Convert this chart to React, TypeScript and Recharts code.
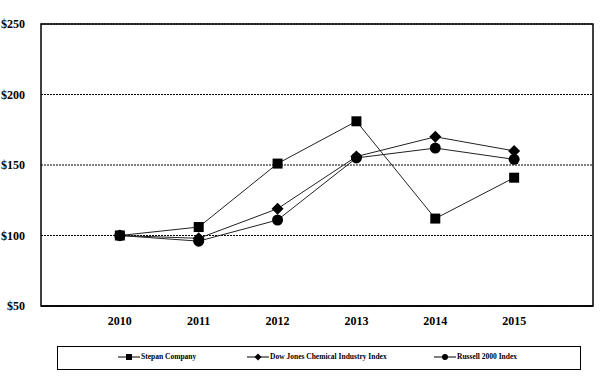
import React from 'react';
import { LineChart, Line, XAxis, YAxis, CartesianGrid, ReferenceArea } from 'recharts';

const years = [2010, 2011, 2012, 2013, 2014, 2015];
const stepan = [100, 106, 151, 181, 112, 141];
const dowChem = [100, 98, 119, 156, 170, 160];
const russell = [100, 96, 111, 155, 162, 154];
const yTicks = [50, 100, 150, 200, 250];
const seriesNames = ['Stepan Company', 'Dow Jones Chemical Industry Index', 'Russell 2000 Index'];

const data = years.map((y, i) => ({ year: y, stepan: stepan[i], dow: dowChem[i], russell: russell[i] }));

const FONT = '"Liberation Serif", "Times New Roman", serif';

const SquareDot = (props: any) => {
  const { cx, cy } = props;
  if (cx == null || cy == null) return null;
  return <rect x={cx - 5} y={cy - 5} width={10} height={10} fill="#000" />;
};
const DiamondDot = (props: any) => {
  const { cx, cy } = props;
  if (cx == null || cy == null) return null;
  return <polygon points={`${cx},${cy - 6} ${cx + 6},${cy} ${cx},${cy + 6} ${cx - 6},${cy}`} fill="#000" />;
};
const CircleDot = (props: any) => {
  const { cx, cy } = props;
  if (cx == null || cy == null) return null;
  return <circle cx={cx} cy={cy} r={5.5} fill="#000" />;
};

const LegendMarker = ({ type }: { type: string }) => (
  <svg width={22} height={8} style={{ verticalAlign: 'middle', marginRight: 1 }}>
    <line x1={0} y1={4} x2={22} y2={4} stroke="#000" strokeWidth={1} />
    {type === 'square' && <rect x={8} y={1} width={6} height={6} fill="#000" />}
    {type === 'diamond' && <polygon points="11,0.5 14.5,4 11,7.5 7.5,4" fill="#000" />}
    {type === 'circle' && <circle cx={11} cy={4} r={3} fill="#000" />}
  </svg>
);

const LegendBox = () => {
  const types = ['square', 'diamond', 'circle'];
  const lefts = [60, 189, 376];
  return (
    <div style={{ position: 'absolute', left: 57, top: 346, width: 524, height: 24, border: '1.5px solid #000', boxSizing: 'border-box', fontFamily: FONT, fontWeight: 'bold', fontSize: 7.5 }}>
      {seriesNames.map((n, i) => (
        <div key={n} style={{ position: 'absolute', left: lefts[i], top: 5, whiteSpace: 'nowrap', lineHeight: '10px' }}>
          <LegendMarker type={types[i]} />
          <span style={{ verticalAlign: 'middle' }}>{n}</span>
        </div>
      ))}
    </div>
  );
};

export default function App() {
  return (
    <div style={{ position: 'absolute', left: 0, top: 0, width: 608, height: 383, background: '#fff' }}>
      <LineChart width={608} height={383} data={data} margin={{ top: 24, right: 15, left: 0, bottom: 57 }}>
        <CartesianGrid vertical={false} stroke="#000" strokeDasharray="2 1" strokeWidth={1} />
        <XAxis
          dataKey="year"
          type="number"
          domain={[2009, 2016]}
          ticks={years}
          tickLine={false}
          axisLine={{ stroke: '#000', strokeWidth: 1.5 }}
          tick={{ fill: '#000', fontFamily: FONT, fontWeight: 'bold', fontSize: 12 }}
          tickMargin={4}
          height={20}
          interval={0}
        />
        <YAxis
          domain={[50, 250]}
          ticks={yTicks}
          tickLine={false}
          axisLine={false}
          width={41}
          tick={{ fill: '#000', fontFamily: FONT, fontWeight: 'bold', fontSize: 12 }}
          tickFormatter={(v: number) => `$${v}`}
          tickMargin={10}
        />
        <ReferenceArea x1={2009} x2={2016} y1={50} y2={250} fill="none" stroke="#000" strokeWidth={1.5} ifOverflow="visible" />
        <Line type="linear" dataKey="stepan" name={seriesNames[0]} stroke="#222" strokeWidth={1} dot={<SquareDot />} isAnimationActive={false} />
        <Line type="linear" dataKey="dow" name={seriesNames[1]} stroke="#222" strokeWidth={1} dot={<DiamondDot />} isAnimationActive={false} />
        <Line type="linear" dataKey="russell" name={seriesNames[2]} stroke="#222" strokeWidth={1} dot={<CircleDot />} isAnimationActive={false} />
      </LineChart>
      <LegendBox />
    </div>
  );
}
